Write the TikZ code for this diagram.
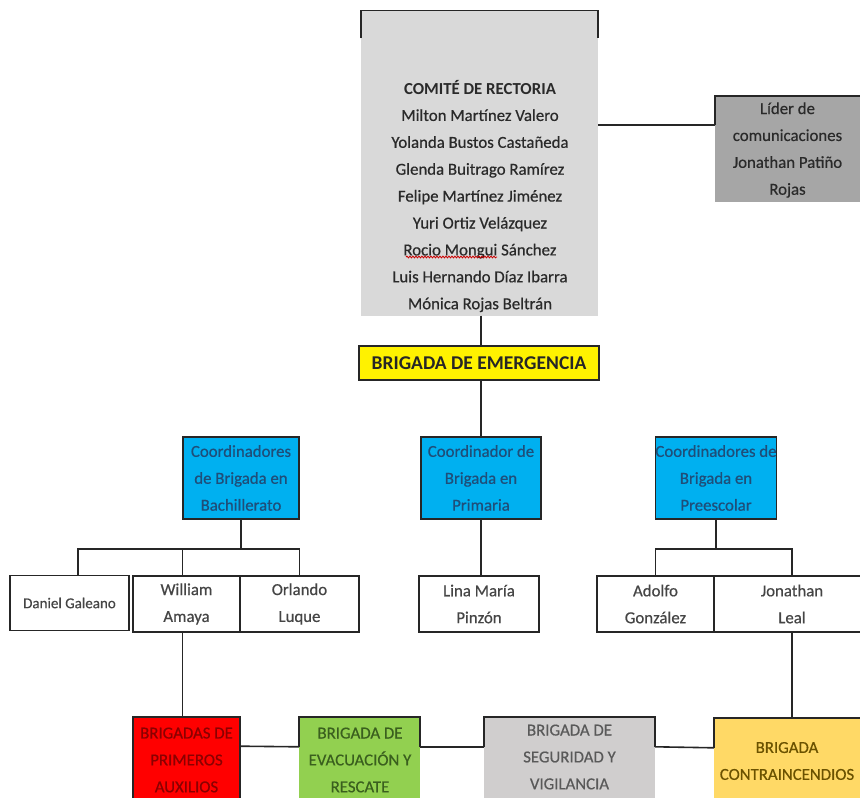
\documentclass[tikz,border=0pt]{standalone}
\usepackage{fontspec}
\setmainfont{Carlito}[UprightFeatures={FakeBold=0.5}]
\usetikzlibrary{calc,decorations.pathmorphing}
\definecolor{cgray}{HTML}{D9D9D9}
\definecolor{lgray}{HTML}{A6A6A6}
\definecolor{cblue}{HTML}{00B0F0}
\definecolor{bluetext}{HTML}{1F4E79}
\definecolor{cred}{HTML}{FF0000}
\definecolor{redtext}{HTML}{8A0000}
\definecolor{cgreen}{HTML}{92D050}
\definecolor{greentext}{HTML}{3A5F1E}
\definecolor{sgray}{HTML}{D0CECE}
\definecolor{sgraytext}{HTML}{595959}
\definecolor{corange}{HTML}{FFD966}
\definecolor{orangetext}{HTML}{6B5200}
\definecolor{dtext}{HTML}{2A2A2A}
\definecolor{wtext}{HTML}{454545}
\begin{document}
\begin{tikzpicture}[x=1pt,y=-1pt,
  every node/.style={align=center, inner sep=0pt, font=\fontsize{16.8}{26.9}\selectfont},
  ln/.style={line width=1.6pt, draw=black!85},
  bluebox/.style={rectangle, fill=cblue, draw=black!85, line width=1.6pt, minimum width=#1, minimum height=82pt, text=bluetext},
  whitebox/.style={rectangle, fill=white, draw=black!85, line width=1.6pt, minimum width=#1, minimum height=56pt, text=wtext},
  fillbox/.style={rectangle, minimum width=#1, minimum height=86pt}
]
\useasboundingbox (0,0) rectangle (860,798);
\clip (0,0) rectangle (860,798);

% Comite
\node[fill=cgray, minimum width=237pt, minimum height=305pt] (comite) at (479.5,163) {};
\draw[ln] ([yshift=-28pt]comite.north west) -- (comite.north west) -- (comite.north east) -- ([yshift=-28pt]comite.north east);
\node[text=dtext] (comitetext) at (480,196) {\textbf{COMITÉ DE RECTORIA}\\Milton Martínez Valero\\Yolanda Bustos Castañeda\\Glenda Buitrago Ramírez\\Felipe Martínez Jiménez\\Yuri Ortiz Velázquez\\Rocio Mongui Sánchez\\Luis Hernando Díaz Ibarra\\Mónica Rojas Beltrán};
\draw[red!80!black, line width=0.8pt, decorate, decoration={snake, amplitude=0.9pt, segment length=3pt}] (406,257) -- (497,257);

% Lider
\node[fill=lgray, minimum width=150pt, minimum height=106pt] (lider) at (790,149) {};
\node[text=dtext] (lidertext) at (787.5,150) {Líder de\\comunicaciones\\Jonathan Patiño\\Rojas};
\draw[ln] ($(lider.north west)+(0,29)$) -- (lider.north west) -- (lider.north east);
\draw[ln] (comite.east |- {$(lider.north west)+(0,29)$}) -- ($(lider.north west)+(0,29)$);

% Emergencia
\node[rectangle, fill=yellow, draw=black!85, line width=1.6pt, minimum width=240pt, minimum height=34pt, font=\bfseries\fontsize{19.5}{22}\selectfont, text=black!85] (emerg) at (479,363) {BRIGADA DE EMERGENCIA};

% Coordinadores
\node[bluebox=116pt] (bach) at (241,478) {Coordinadores\\de Brigada en\\Bachillerato};
\node[bluebox=120pt] (prim) at (481,478) {Coordinador de\\Brigada en\\Primaria};
\node[bluebox=120pt] (pre) at (716,478) {Coordinadores de\\Brigada en\\Preescolar};
\draw[ln] (prim.north |- comite.south) -- (prim.north |- emerg.north);
\draw[ln] (prim.north |- emerg.south) -- (prim.north);

% Personas
\node[whitebox=119pt, minimum height=55pt, font=\fontsize{15}{26.9}\selectfont] (daniel) at (69.5,603) {Daniel Galeano};
\node[whitebox=107pt] (william) at (186.5,604) {William\\Amaya};
\node[whitebox=119pt] (orlando) at (299.5,604) {Orlando\\Luque};
\node[whitebox=120pt] (lina) at (479,604) {Lina María\\Pinzón};
\node[whitebox=117pt] (adolfo) at (655.5,604) {Adolfo\\González};
\node[whitebox=156pt] (jonathan) at (792,604) {Jonathan\\Leal};

\coordinate (bj) at ($(bach.south)+(0,29)$);
\coordinate (pj) at ($(pre.south)+(0,29)$);
\draw[ln] (bach.south) -- (bj);
\draw[ln] ([xshift=8.5pt]daniel.north) |- (bj) -| (orlando.north);
\draw[ln] ([xshift=-4pt]william.north |- bj) -- ([xshift=-4pt]william.north);
\draw[ln] (prim.south) -- (prim.south |- lina.north);
\draw[ln] (pre.south) -- (pj);
\draw[ln] (adolfo.north) |- (pj) -| (jonathan.north);

% Brigadas
\node[fillbox=107pt, fill=cred, draw=black!85, line width=1.6pt] (red) at (186.5,760) {};
\node[fillbox=121pt, fill=cgreen] (green) at (359.5,760) {};
\node[fillbox=171pt, fill=sgray] (seg) at (569.5,760) {};
\node[fillbox=150pt, fill=corange] (orange) at (789,761) {};
\node[text=redtext] (redt) at (186.5,760) {BRIGADAS DE\\PRIMEROS\\AUXILIOS};
\node[text=greentext] (greent) at (360,760) {BRIGADA DE\\EVACUACIÓN Y\\RESCATE};
\node[text=sgraytext] (segt) at (569.5,757) {BRIGADA DE\\SEGURIDAD Y\\VIGILANCIA};
\node[text=orangetext] (oranget) at (787,761) {BRIGADA\\CONTRAINCENDIOS};

\draw[ln] ($(green.north west)+(0,30)$) -- (green.north west) -- (green.north east) -- ($(green.north east)+(0,30)$);
\draw[ln] ($(seg.north west)+(0,30)$) -- (seg.north west) -- (seg.north east) -- ($(seg.north east)+(0,30)$);
\draw[ln] ($(orange.north west)+(0,30)$) -- (orange.north west) -- (orange.north east);
\draw[ln] ($(red.north east)+(0,30)$) -- ($(green.north west)+(0,30)$);
\draw[ln] ($(green.north east)+(0,30)$) -- ($(seg.north west)+(0,30)$);
\draw[ln] ($(seg.north east)+(0,30)$) -- ($(orange.north west)+(0,30)$);
\draw[ln] ([xshift=-4pt]william.south) -- ([xshift=-4pt]red.north);
\draw[ln] (jonathan.south) -- (jonathan.south |- orange.north);
\end{tikzpicture}
\end{document}
